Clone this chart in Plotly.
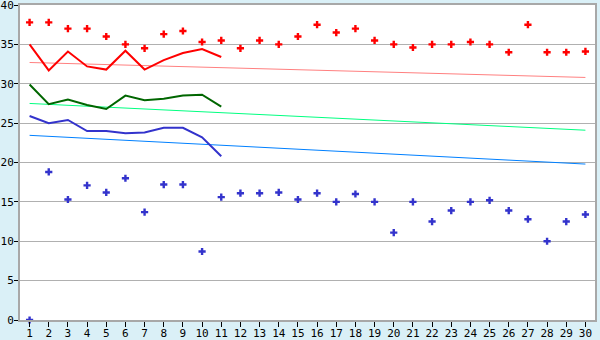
import plotly.graph_objects as go

days = list(range(1, 31))
line_days = list(range(1, 12))

red_points = [37.8, 37.8, 37.0, 37.0, 36.0, 35.0, 34.5, 36.3, 36.7, 35.3,
              35.5, 34.5, 35.5, 35.0, 36.0, 37.5, 36.5, 37.0, 35.5, 35.0,
              34.6, 35.0, 35.0, 35.3, 35.0, 34.0, 37.5, 34.0, 34.0, 34.1]
blue_points = [0.0, 18.8, 15.3, 17.1, 16.2, 18.0, 13.7, 17.2, 17.2, 8.7,
               15.6, 16.1, 16.1, 16.2, 15.3, 16.1, 15.0, 16.0, 15.0, 11.1,
               15.0, 12.5, 13.9, 15.0, 15.2, 13.9, 12.8, 10.0, 12.5, 13.4]
red_line = [35.0, 31.7, 34.1, 32.2, 31.8, 34.2, 31.8, 33.0, 33.9, 34.4, 33.4]
green_line = [29.9, 27.4, 28.0, 27.3, 26.8, 28.5, 27.9, 28.1, 28.5, 28.6, 27.1]
blue_line = [25.9, 25.0, 25.4, 24.0, 24.0, 23.7, 23.8, 24.4, 24.4, 23.2, 20.8]
trend_days = [1, 30]
red_trend = [32.7, 30.8]
green_trend = [27.5, 24.1]
blue_trend = [23.45, 19.8]

fig = go.Figure()
fig.add_trace(go.Scatter(x=trend_days, y=red_trend, mode="lines",
                         line=dict(color="#ff8080", width=1)))
fig.add_trace(go.Scatter(x=trend_days, y=green_trend, mode="lines",
                         line=dict(color="#00ff80", width=1)))
fig.add_trace(go.Scatter(x=trend_days, y=blue_trend, mode="lines",
                         line=dict(color="#0080ff", width=1)))
fig.add_trace(go.Scatter(x=line_days, y=red_line, mode="lines",
                         line=dict(color="#ff0000", width=2)))
fig.add_trace(go.Scatter(x=line_days, y=green_line, mode="lines",
                         line=dict(color="#006600", width=2)))
fig.add_trace(go.Scatter(x=line_days, y=blue_line, mode="lines",
                         line=dict(color="#3333cc", width=2)))
fig.add_trace(go.Scatter(x=days, y=red_points, mode="markers",
                         marker=dict(symbol="cross", size=6, color="#ff0000")))
fig.add_trace(go.Scatter(x=days, y=blue_points, mode="markers",
                         marker=dict(symbol="cross", size=6, color="#3333cc"),
                         cliponaxis=False))

font = dict(family="DejaVu Sans Mono", size=11, color="#000000")
fig.update_layout(
    width=600, height=340,
    margin=dict(l=20, r=5, t=5, b=20),
    paper_bgcolor="#daf0f7",
    plot_bgcolor="#ffffff",
    showlegend=False,
    font=font,
    xaxis=dict(range=[0.5, 30.5], tickmode="array", tickvals=days,
               ticktext=[str(d) for d in days], automargin=False,
               ticklabeloverflow="allow", ticklabelstandoff=-3,
               showgrid=False, zeroline=False,
               showline=True, linecolor="#a8a8a8", linewidth=2, mirror=True,
               ticks="outside", ticklen=5, tickcolor="#000000",
               tickfont=font),
    yaxis=dict(range=[0, 40], tickmode="array", tickvals=list(range(0, 41, 5)),
               automargin=False, ticklabeloverflow="allow",
               ticklabelstandoff=-2,
               showgrid=True, gridcolor="#b0b0b0", gridwidth=1,
               zeroline=False,
               showline=True, linecolor="#a8a8a8", linewidth=2, mirror=True,
               ticks="outside", ticklen=4, tickcolor="#000000",
               tickfont=font),
)

fig.write_html("out.html")
